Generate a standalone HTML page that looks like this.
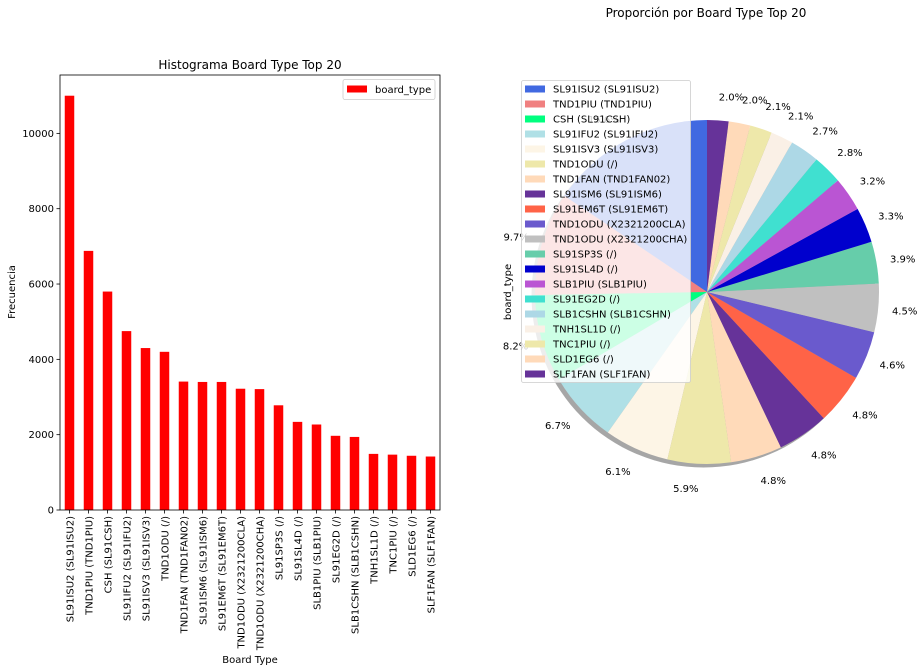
<!DOCTYPE html>
<html><head><meta charset="utf-8"><style>
html,body{margin:0;padding:0;background:#fff;}
svg{display:block;font-family:"DejaVu Sans","Liberation Sans",sans-serif;}
</style></head><body>
<svg id="c" width="922" height="672" viewBox="0 0 922 672" xmlns="http://www.w3.org/2000/svg">
<g id="bar"></g>
<g id="pie"></g>
</svg>
<script>
const categories = ["SL91ISU2 (SL91ISU2)","TND1PIU (TND1PIU)","CSH (SL91CSH)","SL91IFU2 (SL91IFU2)","SL91ISV3 (SL91ISV3)","TND1ODU (/)","TND1FAN (TND1FAN02)","SL91ISM6 (SL91ISM6)","SL91EM6T (SL91EM6T)","TND1ODU (X2321200CLA)","TND1ODU (X2321200CHA)","SL91SP3S (/)","SL91SL4D (/)","SLB1PIU (SLB1PIU)","SL91EG2D (/)","SLB1CSHN (SLB1CSHN)","TNH1SL1D (/)","TNC1PIU (/)","SLD1EG6 (/)","SLF1FAN (SLF1FAN)"];
const counts = [11000,6880,5800,4750,4300,4200,3410,3400,3400,3220,3210,2780,2340,2270,1970,1940,1490,1470,1440,1420];
const yTicks = [0,2000,4000,6000,8000,10000];
const pieColors = ["#4169E1","#F08080","#00FF7F","#B0E0E6","#FDF5E6","#EEE8AA","#FFDAB9","#663399","#FF6347","#6A5ACD","#C0C0C0","#66CDAA","#0000CD","#BA55D3","#40E0D0","#ADD8E6","#FAF0E6","#EEE8AA","#FFDAB9","#663399"];

const NS="http://www.w3.org/2000/svg";
function mk(tag, attrs, parent, text){
  const e=document.createElementNS(NS,tag);
  for(const k in attrs) e.setAttribute(k,attrs[k]);
  if(text!==undefined) e.textContent=text;
  parent.appendChild(e); return e;
}
const svg=document.getElementById('c');
const bar=document.getElementById('bar');
const pie=document.getElementById('pie');

// ---- Bar chart ----
const ax={x0:60,x1:440,y0:75,y1:510};
const ymax=Math.max(...counts)*1.05;
const yS=v=>ax.y1-(v/ymax)*(ax.y1-ax.y0);
const n=categories.length;
const step=(ax.x1-ax.x0)/n;
const xS=i=>ax.x0+step*(i+0.5);

let t=mk('text',{x:250,y:69,'text-anchor':'middle','font-size':12,fill:'#000'},svg,'Histograma Board Type Top 20');



counts.forEach((v,i)=>{
  const r=mk('rect',{x:xS(i)-step/4,y:yS(v),width:step/2,height:ax.y1-yS(v),fill:'#FF0000'},bar);
  
  
  mk('line',{x1:xS(i),x2:xS(i),y1:ax.y1,y2:ax.y1+3.5,stroke:'#000','stroke-width':0.8},bar);
  const lx=xS(i)+4, ly=ax.y1+6;
  const lt=mk('text',{x:lx,y:ly,transform:`rotate(-90 ${lx} ${ly})`,'text-anchor':'end','font-size':10,fill:'#000'},bar,categories[i]);
  
  
});
yTicks.forEach(v=>{
  mk('line',{x1:ax.x0-3.5,x2:ax.x0,y1:yS(v),y2:yS(v),stroke:'#000','stroke-width':0.8},bar);
  const yt=mk('text',{x:ax.x0-6,y:yS(v)+3.5,'text-anchor':'end','font-size':10,fill:'#000'},bar,String(v));
  
  
});
mk('rect',{x:ax.x0,y:ax.y0,width:ax.x1-ax.x0,height:ax.y1-ax.y0,fill:'none',stroke:'#000','stroke-width':0.8},bar);
t=mk('text',{x:15,y:292,transform:'rotate(-90 15 292)','text-anchor':'middle','font-size':10,fill:'#000'},bar,'Frecuencia');


t=mk('text',{x:250,y:663,'text-anchor':'middle','font-size':10,fill:'#000'},bar,'Board Type');


const bl=mk('g',{},bar);


mk('rect',{x:343,y:79.5,width:92,height:20,rx:2,fill:'#fff','fill-opacity':0.8,stroke:'#ccc','stroke-width':0.8},bl);
mk('rect',{x:347,y:85.5,width:20,height:7,fill:'#FF0000'},bl);
mk('text',{x:375,y:93,'font-size':10,fill:'#000'},bl,'board_type');

// ---- Pie chart ----
t=mk('text',{x:706,y:17,'text-anchor':'middle','font-size':12,fill:'#000'},svg,'Proporción por Board Type Top 20');


const cx=707, cy=292, R=172;
const total=counts.reduce((a,b)=>a+b,0);
function wedgePath(x,y,a0,a1){
  const p0=[x+R*Math.cos(a0),y-R*Math.sin(a0)], p1=[x+R*Math.cos(a1),y-R*Math.sin(a1)];
  const large=(a1-a0)>Math.PI?1:0;
  return `M${x},${y} L${p0[0]},${p0[1]} A${R},${R} 0 ${large} 0 ${p1[0]},${p1[1]} Z`;
}
mk('circle',{cx:cx-3.5,cy:cy+3.5,r:R,fill:'#000','fill-opacity':0.35},pie);
let ang=Math.PI/2;
counts.forEach((v,i)=>{
  const a1=ang+v/total*2*Math.PI;
  const w=mk('path',{d:wedgePath(cx,cy,ang,a1),fill:pieColors[i]},pie);
  
  
  const mid=(ang+a1)/2;
  const lx=cx+1.08*R*Math.cos(mid), ly=cy-1.14*R*Math.sin(mid);
  const pt=mk('text',{x:lx,y:ly+4,'text-anchor':Math.cos(mid)>=0?'start':'end','font-size':10,fill:'#000'},pie,(v/total*100).toFixed(1)+'%');
  
  
  ang=a1;
});
t=mk('text',{x:511,y:292,transform:'rotate(-90 511 292)','text-anchor':'middle','font-size':10,fill:'#000'},pie,'board_type');


const lg=mk('g',{},pie);


mk('rect',{x:521.5,y:80.5,width:169,height:302,rx:2,fill:'#fff','fill-opacity':0.8,stroke:'#ccc','stroke-width':0.8},lg);
categories.forEach((c,i)=>{
  const y=89+i*15;
  mk('rect',{x:525,y:y-3.5,width:20,height:7,fill:pieColors[i]},lg);
  const e=mk('text',{x:553,y:y+3.5,'font-size':10,fill:'#000'},lg,c);
  
  
});
</script>
</body></html>
